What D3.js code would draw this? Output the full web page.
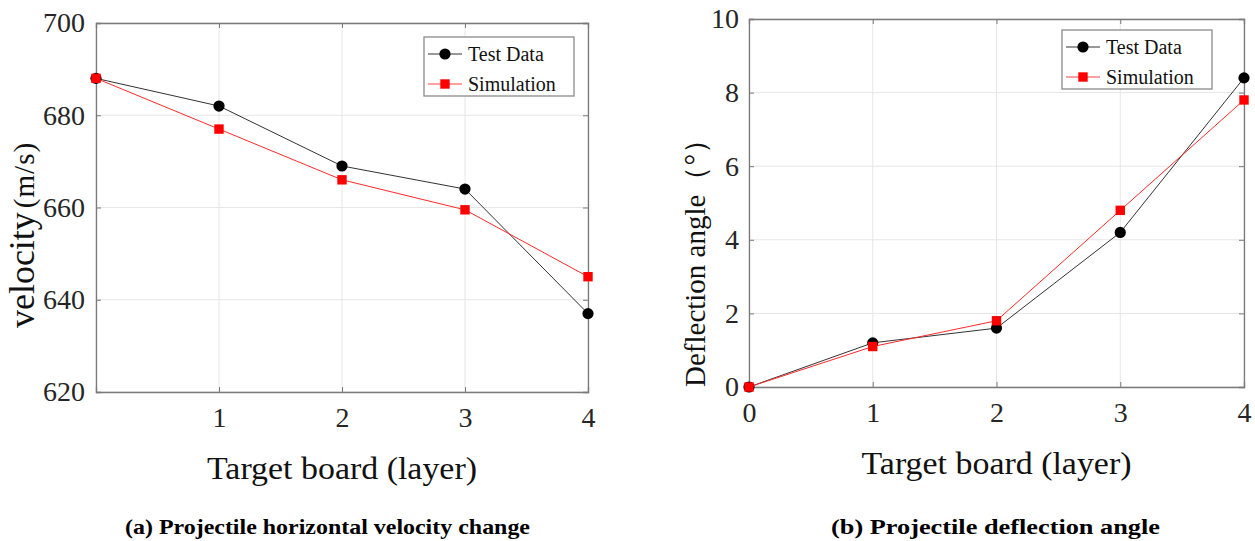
<!DOCTYPE html>
<html>
<head>
<meta charset="utf-8">
<script src="https://cdn.jsdelivr.net/npm/d3@7"></script>
<style>
  body { margin: 0; background: #fff; }
  svg text { font-family: "Liberation Serif", "Times New Roman", serif; }
</style>
</head>
<body>
<svg id="chart" width="1255" height="541"></svg>
<script>
// layers (x values)
const layers = [0, 1, 2, 3, 4];

// (a) horizontal velocity, m/s
const velocityTest = [688, 682, 669, 664, 637];
const velocitySim = [688, 677, 666, 659.5, 645];
const velocityTicks = [620, 640, 660, 680, 700];
const velocityXTicks = [1, 2, 3, 4];

// (b) deflection angle, degrees
const angleTest = [0, 1.2, 1.6, 4.2, 8.4];
const angleSim = [0, 1.1, 1.8, 4.8, 7.8];
const angleTicks = [0, 2, 4, 6, 8, 10];
const angleXTicks = [0, 1, 2, 3, 4];

const seriesNames = ["Test Data", "Simulation"];

const svg = d3.select("#chart");

function drawPanel(opt) {
  const { left, top, width, height } = opt;
  const g = svg.append("g").attr("transform", `translate(${left},${top})`);

  const x = d3.scaleLinear().domain([0, 4]).range([0, width]);
  const y = d3.scaleLinear().domain(opt.yDomain).range([height, 0]);

  // grid
  g.append("g")
    .selectAll("line")
    .data(opt.yTicks)
    .join("line")
    .attr("x1", 0)
    .attr("x2", width)
    .attr("y1", (d) => y(d))
    .attr("y2", (d) => y(d))
    .attr("stroke", "#e6e6e6");
  g.append("g")
    .selectAll("line")
    .data(layers)
    .join("line")
    .attr("x1", (d) => x(d))
    .attr("x2", (d) => x(d))
    .attr("y1", 0)
    .attr("y2", height)
    .attr("stroke", "#e6e6e6");

  // axes, ticks pointing in
  const axes = [
    g.append("g").attr("transform", `translate(0,${height})`)
      .call(d3.axisBottom(x).tickValues(opt.xTicks).tickSize(-5).tickPadding(15).tickFormat(d3.format("d"))),
    g.append("g")
      .call(d3.axisLeft(y).tickValues(opt.yTicks).tickSize(-5).tickPadding(opt.yPad).tickFormat(d3.format("d"))),
    g.append("g")
      .call(d3.axisTop(x).tickValues(opt.xTicks).tickSize(-5).tickFormat("")),
    g.append("g").attr("transform", `translate(${width},0)`)
      .call(d3.axisRight(y).tickValues(opt.yTicks).tickSize(-5).tickFormat(""))
  ];
  axes.forEach((a) => {
    a.select(".domain").attr("stroke", "#7a7a7a").attr("stroke-width", 1.3);
    a.selectAll(".tick line").attr("stroke", "#7a7a7a");
    a.selectAll(".tick text")
      .attr("fill", "#262626")
      .style("font-size", "28px")
      .style("font-family", '"Liberation Serif", "Times New Roman", serif');
  });

  const line = d3.line().x((d, i) => x(layers[i])).y((d) => y(d));

  // test data
  g.append("path")
    .datum(opt.test)
    .attr("d", line)
    .attr("fill", "none")
    .attr("stroke", "#333")
    .attr("stroke-width", 1);
  g.append("g")
    .selectAll("circle")
    .data(opt.test)
    .join("circle")
    .attr("cx", (d, i) => x(layers[i]))
    .attr("cy", (d) => y(d))
    .attr("r", 5.6)
    .attr("fill", "#000");

  // simulation
  g.append("path")
    .datum(opt.sim)
    .attr("d", line)
    .attr("fill", "none")
    .attr("stroke", "#ff2a2a")
    .attr("stroke-width", 1);
  g.append("g")
    .selectAll("rect")
    .data(opt.sim)
    .join("rect")
    .attr("x", (d, i) => x(layers[i]) - 4.7)
    .attr("y", (d) => y(d) - 4.7)
    .attr("width", 9.4)
    .attr("height", 9.4)
    .attr("fill", "#ff0000");

  // legend
  const lg = g.append("g").attr("transform", `translate(${opt.legend[0]},${opt.legend[1]})`);
  lg.append("rect")
    .attr("width", 150)
    .attr("height", 59)
    .attr("fill", "#fff")
    .attr("stroke", "#8a8a8a")
    .attr("stroke-width", 1.3);
  seriesNames.forEach((name, i) => {
    const cy = 17 + i * 30;
    const color = i === 0 ? "#000" : "#ff0000";
    lg.append("line")
      .attr("x1", 4).attr("x2", 38)
      .attr("y1", cy).attr("y2", cy)
      .attr("stroke", i === 0 ? "#333" : "#ff4040");
    if (i === 0) {
      lg.append("circle").attr("cx", 21).attr("cy", cy).attr("r", 5.6).attr("fill", color);
    } else {
      lg.append("rect").attr("x", 16.3).attr("y", cy - 4.7).attr("width", 9.4).attr("height", 9.4).attr("fill", color);
    }
    lg.append("text")
      .attr("x", 44)
      .attr("y", cy + 6.5)
      .attr("fill", "#111")
      .style("font-size", "20px")
      .text(name);
  });

  // x title
  g.append("text")
    .attr("x", width / 2)
    .attr("y", height + 87)
    .attr("text-anchor", "middle")
    .attr("fill", "#111")
    .style("font-size", "32px")
    .attr("textLength", 270)
    .attr("lengthAdjust", "spacingAndGlyphs")
    .text("Target board (layer)");

  // caption, stretched to the width it has in the original figure
  svg.append("text")
    .attr("x", opt.caption[1])
    .attr("y", 534)
    .attr("fill", "#000")
    .style("font-size", "21px")
    .style("font-weight", "bold")
    .attr("textLength", opt.caption[2] - opt.caption[1])
    .attr("lengthAdjust", "spacingAndGlyphs")
    .text(opt.caption[0]);

  return g;
}

drawPanel({
  left: 96, top: 23, width: 492, height: 369,
  yDomain: [620, 700], yTicks: velocityTicks, xTicks: velocityXTicks, yPad: 11,
  test: velocityTest, sim: velocitySim,
  legend: [328, 14],
  caption: ["(a) Projectile horizontal velocity change", 125, 530]
});

drawPanel({
  left: 749, top: 19, width: 495, height: 368,
  yDomain: [0, 10], yTicks: angleTicks, xTicks: angleXTicks, yPad: 10,
  test: angleTest, sim: angleSim,
  legend: [313, 11],
  caption: ["(b) Projectile deflection angle", 831, 1160]
});

// y titles
const yt1 = svg.append("text")
  .attr("transform", "translate(34,235) rotate(-90)")
  .attr("text-anchor", "middle")
  .attr("fill", "#111");
yt1.append("tspan").style("font-size", "36px").text("velocity");
yt1.append("tspan").attr("dx", 4).style("font-size", "29px").style("letter-spacing", "1px").text("(m/s)");

const yt2 = svg.append("text")
  .attr("transform", "translate(705,256) rotate(-90)")
  .attr("text-anchor", "middle")
  .attr("fill", "#111");
yt2.append("tspan").style("font-size", "29px").text("Deflection angle");
yt2.append("tspan").style("font-size", "29px").text("（°）");
</script>
</body>
</html>
